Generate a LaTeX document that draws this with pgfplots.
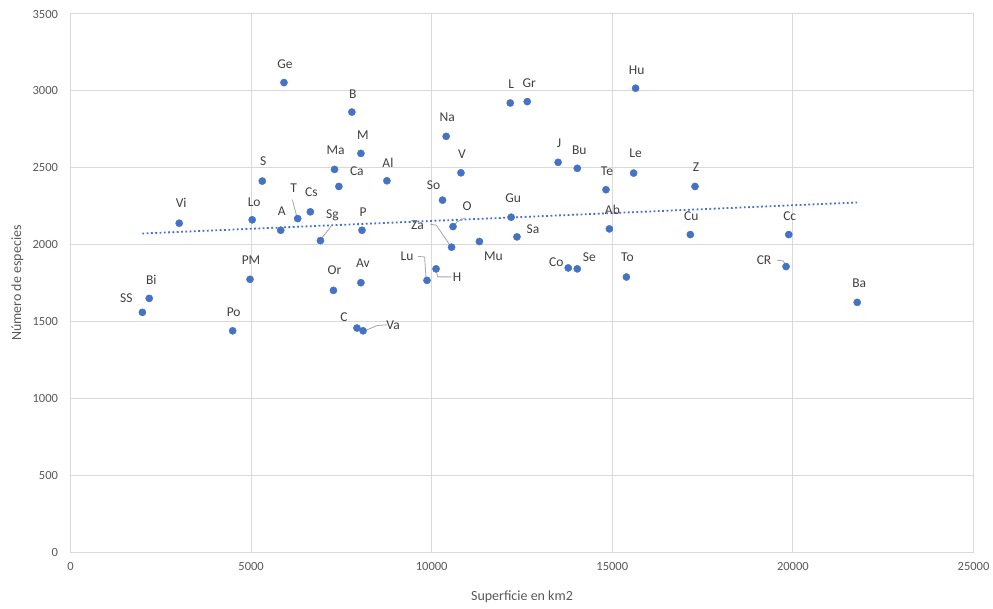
\documentclass[border=0pt]{standalone}
\usepackage{pgfplots}
\pgfplotsset{compat=1.18}
\usepackage{pgfplotstable}
\usepackage{fontspec}
\setmainfont{Carlito}

\definecolor{ptblue}{HTML}{4472C4}
\definecolor{gridgray}{HTML}{D9D9D9}
\definecolor{ticktext}{HTML}{595959}
\definecolor{lbltext}{HTML}{404040}
\definecolor{leader}{HTML}{A6A6A6}

% x = superficie (km2), y = especies, lab = label, dx/dy = label offset in pt
\pgfplotstableread{
x y lab dx dy
5910 3054 Ge 1 18
7790 2862 B 1 18
8040 2593 M 2 18
7310 2489 Ma 1 19
7430 2378 Ca 18 15
8760 2415 Al 1 18
5310 2413 S 1 20
6290 2169 T -4 30
6640 2213 Cs 1 20
5820 2093 A 1 19
6920 2026 Sg 12 25
8070 2093 P 1 18
3010 2139 Vi 2 20
5030 2161 Lo 2 18
4970 1774 PM 1 19
7280 1702 Or 1 20
8040 1752 Av 2 20
2180 1650 Bi 2 19
1990 1559 SS -16 14
4490 1439 Po 1 19
7930 1457 C -13 11
8100 1439 Va 30 6
12175 2921 L 1 19
12645 2930 Gr 2 18
15645 3017 Hu 1 18
10400 2704 Na 1 19
10810 2467 V 1 19
13500 2535 J 1 19
14030 2496 Bu 2 18
14825 2357 Te 1 18
15590 2465 Le 2 20
10300 2289 So -9 15
12200 2178 Gu 2 19
10590 2117 O 14 20
10550 1983 Za -34 22
12360 2050 Sa 16 8
11320 2020 Mu 14 -15
14920 2102 Ab 3 19
9870 1767 Lu -20 24
10120 1842 H 21 -8
13780 1848 Co -12 6
14030 1842 Se 12 12
15390 1789 To 1 20
17290 2378 Z 1 19
17160 2065 Cu 1 18
19885 2065 Cc 1 18
19810 1857 CR -22 6
21780 1624 Ba 2 19
}\pts

\begin{document}
\begin{tikzpicture}
\path[use as bounding box] (-70.5pt,-56pt) rectangle (922.5pt,552pt);
\begin{axis}[
  scale only axis, width=903pt, height=538pt,
  xmin=0, xmax=25000, ymin=0, ymax=3500,
  xtick={0,5000,...,25000}, ytick={0,500,...,3500},
  scaled ticks=false,
  /pgf/number format/1000 sep={},
  /pgf/number format/assume math mode=true,
  grid=major, major grid style={draw=gridgray, line width=1pt},
  axis line style={draw=gridgray, line width=1pt},
  major tick length=0pt,
  tick label style={font=\fontsize{12.5}{14}\selectfont, text=ticktext},
  xticklabel style={yshift=-7pt},
  yticklabel style={xshift=-9pt},
  xlabel={Superficie en km2},
  ylabel={Número de especies},
  label style={font=\fontsize{14}{16}\selectfont, text=ticktext},
  xlabel style={at={(axis description cs:0.5,-0.0835)}, anchor=center},
  ylabel style={at={(axis description cs:-0.0587,0.5)}, anchor=center},
  clip=false,
]
\addplot[only marks, mark=*, mark size=3.6pt, color=ptblue,
  nodes near coords, point meta=explicit symbolic,
  visualization depends on={\thisrow{dx}\as\dx},
  visualization depends on={\thisrow{dy}\as\dy},
  every node near coord/.append style={anchor=center, xshift=\dx pt, yshift=\dy pt,
    font=\fontsize{13.5}{15}\selectfont, text=lbltext}]
  table[x=x, y=y, meta=lab] {\pts};
\addplot[ptblue, line width=1.8pt, dash pattern=on 1.8pt off 2.5pt]
  coordinates {(1990,2072) (21780,2274)};
% leader lines
\draw[leader, line width=0.8pt] ([shift={(-1pt,2.3pt)}]axis cs:6290,2169) -- ([shift={(-5.4pt,19pt)}]axis cs:6290,2169);
\draw[leader, line width=0.8pt] ([shift={(1.4pt,2.7pt)}]axis cs:6920,2026) -- ([shift={(10.7pt,14.3pt)}]axis cs:6920,2026);
\draw[leader, line width=0.8pt] ([shift={(23.7pt,6pt)}]axis cs:8100,1439) -- ([shift={(14.3pt,5.3pt)}]axis cs:8100,1439) -- ([shift={(3.7pt,1pt)}]axis cs:8100,1439);
\draw[leader, line width=0.8pt] ([shift={(12.3pt,8.7pt)}]axis cs:10590,2117) -- ([shift={(4pt,4.7pt)}]axis cs:10590,2117) -- ([shift={(1.3pt,1.3pt)}]axis cs:10590,2117);
\draw[leader, line width=0.8pt] ([shift={(-21.3pt,23pt)}]axis cs:10550,1983) -- ([shift={(-15.3pt,22pt)}]axis cs:10550,1983) -- ([shift={(-1.3pt,1.7pt)}]axis cs:10550,1983);
\draw[leader, line width=0.8pt] ([shift={(-9pt,24pt)}]axis cs:9870,1767) -- ([shift={(-2.4pt,23.4pt)}]axis cs:9870,1767) -- ([shift={(-1pt,2.4pt)}]axis cs:9870,1767);
\draw[leader, line width=0.8pt] ([shift={(15.3pt,-8pt)}]axis cs:10120,1842) -- ([shift={(1.6pt,-8pt)}]axis cs:10120,1842) -- ([shift={(0.3pt,-2pt)}]axis cs:10120,1842);
\draw[leader, line width=0.8pt] ([shift={(-9pt,6.3pt)}]axis cs:19810,1857) -- ([shift={(-3pt,5.7pt)}]axis cs:19810,1857) -- ([shift={(-0.4pt,2pt)}]axis cs:19810,1857);
\end{axis}
\end{tikzpicture}
\end{document}
